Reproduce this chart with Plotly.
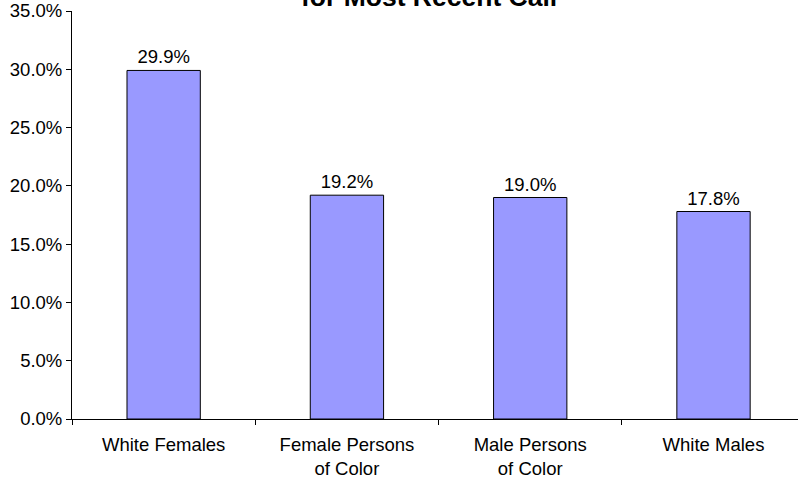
import plotly.graph_objects as go

categories = ["White Females", "Female Persons<br>of Color", "Male Persons<br>of Color", "White Males"]
values = [29.9, 19.2, 19.0, 17.8]
value_labels = ["29.9%", "19.2%", "19.0%", "17.8%"]
title_text = "for Most Recent Call"

FONT = "Liberation Sans, Arial, sans-serif"

fig = go.Figure()
fig.add_trace(go.Bar(
    x=categories,
    y=values,
    text=value_labels,
    textposition="outside",
    textfont=dict(family=FONT, size=18.5, color="black"),
    marker=dict(color="#9999FF", line=dict(color="black", width=1)),
    width=0.4,
    cliponaxis=False,
))

fig.add_annotation(
    text="<b>" + title_text + "</b>",
    xref="paper", yref="paper",
    x=0.492, y=0.9926,
    xanchor="center", yanchor="bottom",
    showarrow=False,
    font=dict(family=FONT, size=26.5, color="black"),
)

fig.update_layout(
    width=798, height=479,
    margin=dict(l=72, r=0, t=11, b=60),
    paper_bgcolor="white",
    plot_bgcolor="white",
    showlegend=False,
    font=dict(family=FONT, size=18.5, color="black"),
)

fig.update_xaxes(
    type="category",
    range=[-0.5, 3.461],
    automargin=False,
    showline=True, linecolor="black", linewidth=1,
    ticks="outside", ticklen=5, tickcolor="black", tickwidth=1,
    tickson="boundaries",
    ticklabelstandoff=9,
    showgrid=False,
    tickfont=dict(family=FONT, size=18.5, color="black"),
)

fig.update_yaxes(
    range=[0, 35],
    dtick=5,
    tick0=0,
    tickformat=".1f",
    ticksuffix="%",
    automargin=False,
    showline=True, linecolor="black", linewidth=1,
    ticks="outside", ticklen=5, tickcolor="black", tickwidth=1,
    showgrid=False,
    zeroline=False,
    tickfont=dict(family=FONT, size=18.5, color="black"),
)

fig.write_html("out.html", config={"displayModeBar": False},
               post_script="document.body.style.margin='0px';")
